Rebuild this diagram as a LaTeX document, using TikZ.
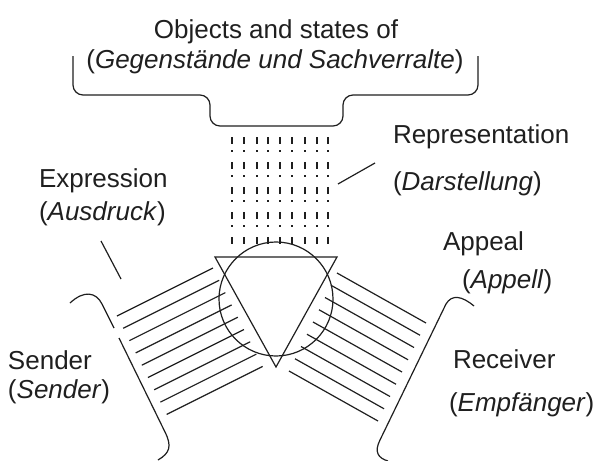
\documentclass[tikz,border=0pt]{standalone}
\usepackage{fontspec}
\setmainfont{Liberation Sans}
\begin{document}
\begin{tikzpicture}[x=1pt,y=-1pt,
  ink/.style={draw=black!88,line width=1.2pt},
  lbl/.style={anchor=base west,inner sep=0pt,outer sep=0pt,text=black!88,font=\fontsize{26}{30}\selectfont},
  clbl/.style={anchor=base,inner sep=0pt,outer sep=0pt,text=black!88,font=\fontsize{26}{30}\selectfont},
  raydash/.style={draw=black!88,line width=1.2pt,dash pattern=on 7pt off 6pt on 2pt off 10pt}]
\useasboundingbox (0,0) rectangle (598,461);
% texts
\node[clbl] (obj) at (276,38) {Objects and states of};
\node[clbl] (geg) at (275,68) {(\textit{Gegenstände und Sachverralte})};
\node[lbl] (rep) at (393,143) {Representation};
\node[lbl] (dar) at (393,190) {(\textit{Darstellung})};
\node[lbl] (exp) at (39,187) {Expression};
\node[lbl] (aus) at (39,220) {(\textit{Ausdruck})};
\node[lbl] (app) at (443,250) {Appeal};
\node[lbl] (apl) at (462,288) {(\textit{Appell})};
\node[lbl] (snd) at (8,369) {Sender};
\node[lbl] (sen) at (8,398) {(\textit{Sender})};
\node[lbl] (rcv) at (453,368) {Receiver};
\node[lbl] (emp) at (449,411) {(\textit{Empfänger})};
% top brace
\draw[ink,rounded corners=10pt] (73,56) -- (73,95) -- (210,95) -- (210,126) -- (343,126) -- (343,95) -- (478,95) -- (478,56);
% dashed rays
\foreach \x in {232,244,257,268,280,292,305,317,328}
  \draw[raydash] (\x,137) -- (\x,249);
% pointer lines
\coordinate (repA) at (338,184);
\coordinate (repB) at (375,163);
\draw[ink] (repA) -- (repB);
\coordinate (expA) at (101,241);
\coordinate (expB) at (121,279);
\draw[ink] (expA) -- (expB);
% circle and triangle
\coordinate (cc) at (276,299);
\draw[ink] (cc) circle[radius=57];
\coordinate (tl) at (215,257);
\coordinate (tr) at (337,257);
\coordinate (tb) at (276,367);
\draw[ink,line join=miter] (tl) -- (tr) -- (tb) -- cycle;
% left bundle
\foreach \k in {0,...,8}
  \draw[ink] ({117+6.2*\k},{316+12.3*\k}) -- ++(96,-48);
% right bundle
\foreach \k in {0,...,8}
  \draw[ink] ({426-6*\k},{323+12.25*\k}) -- ++(-89,-50);
% left bracket (sender)
\draw[ink] (70,303) .. controls (84,290) and (96,292) .. (102,304) -- (114,328);
\draw[ink] (119,338) -- (165,432) .. controls (172,446) and (170,453) .. (158,460);
% right bracket (receiver)
\draw[ink] (474,306) .. controls (462,296) and (452,294) .. (446,304) -- (380,440) .. controls (374,452) and (378,458) .. (388,461);
\end{tikzpicture}
\end{document}
